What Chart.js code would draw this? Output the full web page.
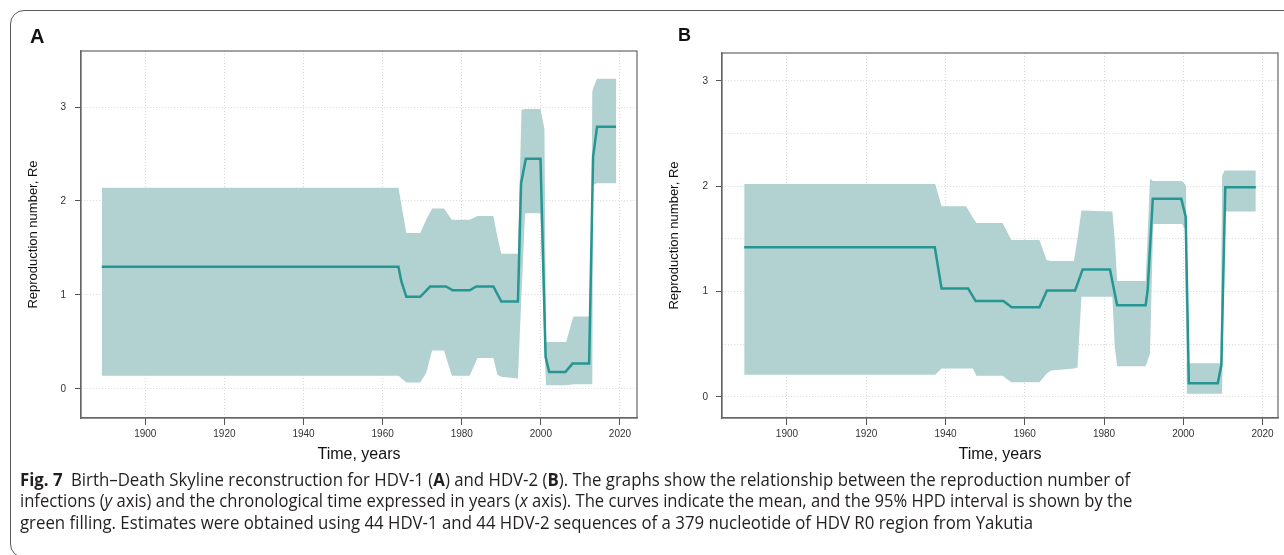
<!DOCTYPE html>
<html>
<head>
<meta charset="utf-8">
<script src="https://cdn.jsdelivr.net/npm/chart.js@4.4.1/dist/chart.umd.min.js"></script>
<style>
  body { margin: 0; background: #fff; width: 1284px; height: 555px; overflow: hidden; position: relative; font-family: "Liberation Sans", Arial, sans-serif; }
  #frame { position: absolute; left: 10px; top: 10px; width: 1300px; height: 548px; border: 1.5px solid #5a5a5a; border-radius: 14px; box-sizing: border-box; }
  canvas { position: absolute; }
  #chartA { left: 0; top: 0; }
  #chartB { left: 645px; top: 0; }
  .panel { position: absolute; font-weight: bold; color: #111; line-height: 20px; }
  .cap { position: absolute; left: 20px; font-family: "Open Sans", sans-serif; font-size: 17.5px; color: #231f20; white-space: nowrap; line-height: 22px; transform-origin: 0 50%; }
</style>
</head>
<body>
<div id="frame"></div>
<canvas id="chartA" width="650" height="475"></canvas>
<canvas id="chartB" width="639" height="475"></canvas>
<div class="panel" style="left:30px; top:26px; font-size:20px;">A</div>
<div class="panel" style="left:678px; top:25px; font-size:18px;">B</div>

<div class="cap" style="top:468px;" data-w="1110"><b>Fig. 7</b>&ensp;Birth–Death Skyline reconstruction for HDV-1 (<b>A</b>) and HDV-2 (<b>B</b>). The graphs show the relationship between the reproduction number of</div>
<div class="cap" style="top:489px;" data-w="1112">infections (<i>y</i> axis) and the chronological time expressed in years (<i>x</i> axis). The curves indicate the mean, and the 95% HPD interval is shown by the</div>
<div class="cap" style="top:511px;" data-w="1013">green filling. Estimates were obtained using 44 HDV-1 and 44 HDV-2 sequences of a 379 nucleotide of HDV R0 region from Yakutia</div>

<script>
// axis ticks
const tickYears = [1900, 1920, 1940, 1960, 1980, 2000, 2020];
const tickReA = [0, 1, 2, 3];
const tickReB = [0, 0.5, 1, 1.5, 2, 2.5, 3];

// HDV-1 (A) - mean Re and 95% HPD band
const meanYearsA = [1889, 1964, 1964.7, 1966, 1969.5, 1972, 1976, 1977.7, 1982, 1983.7, 1988, 1990, 1994.2, 1995, 1996.2, 1999.9, 2001.2, 2002.1, 2006.2, 2008, 2012.2, 2013.2, 2014.2, 2019];
const meanA = [1.30, 1.30, 1.15, 0.98, 0.98, 1.09, 1.09, 1.05, 1.05, 1.09, 1.09, 0.93, 0.93, 2.19, 2.45, 2.45, 0.34, 0.18, 0.18, 0.27, 0.27, 2.47, 2.79, 2.79];
const bandYearsA = [1889, 1964, 1966, 1969.5, 1971, 1972.5, 1975.5, 1977.5, 1982, 1984, 1988, 1989, 1990, 1994.2, 1995.1, 1996, 1999.9, 2000.9, 2001.3, 2006.4, 2008.2, 2012.6, 2013.0, 2013.2, 2014.2, 2019];
const upperA = [2.14, 2.14, 1.66, 1.66, 1.80, 1.92, 1.92, 1.80, 1.80, 1.84, 1.84, 1.62, 1.44, 1.44, 2.97, 2.98, 2.98, 2.77, 0.50, 0.50, 0.77, 0.77, 3.16, 3.20, 3.30, 3.30];
const lowerA = [0.14, 0.14, 0.07, 0.07, 0.17, 0.41, 0.41, 0.14, 0.14, 0.33, 0.33, 0.15, 0.13, 0.11, 1.00, 1.87, 1.87, 0.45, 0.04, 0.04, 0.05, 0.05, 0.05, 2.17, 2.19, 2.19];

// HDV-2 (B)
const meanYearsB = [1889.2, 1937.3, 1939, 1945.7, 1947.6, 1954.6, 1956.7, 1963.7, 1965.6, 1972.7, 1974.6, 1981.5, 1983.3, 1990.5, 1991, 1992.3, 1999.5, 2000.6, 2001.4, 2008.7, 2009.6, 2010.6, 2018.3];
const meanB = [1.42, 1.42, 1.03, 1.03, 0.91, 0.91, 0.85, 0.85, 1.01, 1.01, 1.21, 1.21, 0.87, 0.87, 1.01, 1.88, 1.88, 1.71, 0.13, 0.13, 0.30, 1.99, 1.99];
const bandYearsB = [1889.2, 1937.4, 1939, 1945.2, 1946.9, 1947.8, 1954.4, 1956.6, 1963.7, 1965.5, 1966.6, 1972.4, 1973.3, 1974.3, 1982.1, 1982.7, 1983.3, 1990.5, 1991.6, 1992.4, 1999.6, 2000.4, 2000.7, 2000.9, 2009.4, 2009.8, 2010.4, 2018.3];
const upperB = [2.02, 2.02, 1.81, 1.81, 1.70, 1.65, 1.65, 1.49, 1.49, 1.30, 1.29, 1.29, 1.50, 1.77, 1.76, 1.50, 1.10, 1.10, 2.07, 2.05, 2.05, 2.02, 2.00, 0.32, 0.32, 2.10, 2.15, 2.15];
const lowerB = [0.21, 0.21, 0.27, 0.27, 0.27, 0.20, 0.20, 0.14, 0.14, 0.22, 0.25, 0.27, 0.28, 0.95, 0.95, 0.48, 0.29, 0.29, 0.41, 1.64, 1.64, 1.60, 0.03, 0.03, 0.03, 0.03, 1.76, 1.76];

const bandColor = 'rgb(178, 209, 209)';
const lineColor = 'rgb(38, 150, 146)';

function pts(xs, ys) {
  return xs.map((x, i) => ({x: x, y: ys[i]}));
}

// top + right sides of the plot box
const boxPlugin = {
  id: 'box',
  afterDraw(chart) {
    const a = chart.chartArea;
    const ctx = chart.ctx;
    ctx.save();
    ctx.strokeStyle = '#666';
    ctx.lineWidth = 1.2;
    ctx.strokeRect(a.left, a.top, a.right - a.left, a.bottom - a.top);
    ctx.restore();
  }
};

function makeChart(id, c) {
  return new Chart(document.getElementById(id), {
    type: 'line',
    data: {
      datasets: [
        { label: 'mean', data: pts(c.meanYears, c.mean), borderColor: lineColor, borderWidth: 2.5, pointRadius: 0, fill: false, tension: 0 },
        { label: 'upper', data: pts(c.bandYears, c.upper), borderColor: 'rgba(0,0,0,0)', borderWidth: 0, backgroundColor: bandColor, pointRadius: 0, fill: '+1' },
        { label: 'lower', data: pts(c.bandYears, c.lower), borderColor: 'rgba(0,0,0,0)', borderWidth: 0, pointRadius: 0, fill: false }
      ]
    },
    options: {
      responsive: false,
      animation: false,
      layout: { padding: { left: 0, top: c.padTop, right: c.padRight, bottom: 0 } },
      plugins: { legend: { display: false }, tooltip: { enabled: false } },
      scales: {
        x: {
          type: 'linear', min: c.xMin, max: c.xMax,
          afterBuildTicks: s => { s.ticks = tickYears.map(v => ({value: v})); },
          afterFit: s => { s.height = 57; },
          grid: { color: '#d8d8d8', lineWidth: 1, tickLength: 7, tickColor: '#555', tickBorderDash: [] },
          border: { display: true, color: '#666', width: 1.2, dash: [1, 2] },
          ticks: { color: '#333', font: { size: 10, family: 'Liberation Sans' }, padding: 3, maxRotation: 0, callback: v => String(v) },
          title: { display: true, text: 'Time, years', color: '#111', font: { size: 16, family: 'Liberation Sans' }, padding: { bottom: 10.4 } }
        },
        y: {
          type: 'linear', min: c.yMin, max: c.yMax,
          afterBuildTicks: s => { s.ticks = c.yTicks.map(v => ({value: v})); },
          afterFit: s => { s.width = c.yAxisW; },
          grid: {
            color: '#d8d8d8', lineWidth: 1, tickLength: 6, tickBorderDash: [],
            tickColor: ctx => Number.isInteger(ctx.tick.value) ? '#555' : 'rgba(0,0,0,0)'
          },
          border: { display: true, color: '#666', width: 1.2, dash: [1, 2] },
          ticks: { color: '#333', font: { size: 10, family: 'Liberation Sans' }, padding: c.yTickPad, callback: v => Number.isInteger(v) ? String(v) : '' },
          title: { display: true, text: 'Reproduction number, Re', color: '#111', font: { size: 13, family: 'Liberation Sans' }, padding: { top: c.yTitlePad } }
        }
      }
    },
    plugins: [boxPlugin]
  });
}

makeChart('chartA', {
  meanYears: meanYearsA, mean: meanA, bandYears: bandYearsA, upper: upperA, lower: lowerA,
  xMin: 1883.75, xMax: 2024.3, yMin: -0.309, yMax: 3.596, yTicks: tickReA,
  padTop: 51, padRight: 13, yAxisW: 81, yTickPad: 9, yTitlePad: 25.2
});

makeChart('chartB', {
  meanYears: meanYearsB, mean: meanB, bandYears: bandYearsB, upper: upperB, lower: lowerB,
  xMin: 1883.6, xMax: 2023.9, yMin: -0.2, yMax: 3.264, yTicks: tickReB,
  padTop: 53, padRight: 6, yAxisW: 77, yTickPad: 8, yTitlePad: 21.7
});

// squeeze caption lines to the widths in the figure
document.querySelectorAll('.cap').forEach(el => {
  const w = parseFloat(el.dataset.w);
  el.style.transform = 'scaleX(' + (w / el.offsetWidth) + ')';
});
</script>
</body>
</html>
